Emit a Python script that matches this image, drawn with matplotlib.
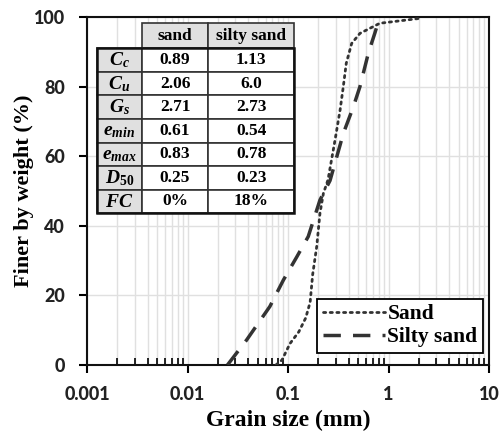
import matplotlib
matplotlib.use("Agg")
import matplotlib.pyplot as plt
from matplotlib.patches import Rectangle

plt.rcParams['mathtext.fontset'] = 'custom'
plt.rcParams['mathtext.it'] = 'Liberation Serif:bold:italic'
plt.rcParams['mathtext.rm'] = 'Liberation Serif:bold'
plt.rcParams['mathtext.bf'] = 'Liberation Serif:bold'

# Data
sand_d = [0.076, 0.087, 0.105, 0.128, 0.150, 0.166, 0.176, 0.193, 0.208, 0.225, 0.25,
          0.294, 0.33, 0.355, 0.38, 0.43, 0.52, 0.82, 2.05]
sand_p = [0.0, 1.4, 6.2, 9.5, 13.5, 18.0, 26.0, 34.0, 43.6, 49.3, 53.2,
          64.7, 73.3, 80.0, 86.7, 92.4, 95.3, 98.2, 99.6]
silty_d = [0.025, 0.0388, 0.066, 0.09, 0.122, 0.159, 0.208, 0.262,
           0.356, 0.447, 0.52, 0.63, 0.73, 0.82]
silty_p = [0.0, 7.2, 16.8, 24.4, 31.0, 36.9, 47.4, 53.0,
           66.6, 74.2, 80.0, 89.6, 95.3, 100.0]

xticks = [0.001, 0.01, 0.1, 1, 10]
xtick_labels = ['0.001', '0.01', '0.1', '1', '10']
yticks = [0, 20, 40, 60, 80, 100]

table_cols = ['sand', 'silty sand']
table_rows = [r'$C_c$', r'$C_u$', r'$G_s$', r'$e_{min}$', r'$e_{max}$',
              r'$D_{\mathit{50}}$', r'$FC$']
table_sand = ['0.89', '2.06', '2.71', '0.61', '0.83', '0.25', '0%']
table_silty = ['1.13', '6.0', '2.73', '0.54', '0.78', '0.23', '18%']

fig = plt.figure(figsize=(5.0, 4.36), dpi=100)
ax = fig.add_axes([0.174, 0.163, 0.804, 0.798])

ax.set_xscale('log')
ax.set_xlim(0.001, 10)
ax.set_ylim(0, 100)

ax.grid(True, which='major', axis='both', color='#e0e0e0', lw=1.0, zorder=0)
ax.grid(True, which='minor', axis='x', color='#e0e0e0', lw=1.0, zorder=0)

ax.plot(sand_d, sand_p, color='#333333', lw=2.0, linestyle=(0, (0.8, 1.6)),
        dash_capstyle='round', label='Sand', zorder=3)
ax.plot(silty_d, silty_p, color='#333333', lw=2.5, linestyle=(0, (5, 3.5)),
        label='Silty sand', zorder=3)

for s in ax.spines.values():
    s.set_linewidth(1.5)
    s.set_color('#111111')

ax.set_xticks(xticks)
ax.set_xticklabels(xtick_labels)
ax.set_yticks(yticks)
ax.tick_params(axis='x', which='major', direction='out', length=6, width=1.5, pad=9)
ax.tick_params(axis='x', which='minor', direction='in', length=5, width=1.2)
ax.tick_params(axis='y', which='major', direction='out', length=6, width=1.5, pad=10)
ax.tick_params(top=False, right=False, which='both')
for lab in ax.get_xticklabels() + ax.get_yticklabels():
    lab.set_fontfamily('Lato')
    lab.set_fontweight(900)
    lab.set_fontsize(13)
    lab.set_color('#222222')

ax.set_xlabel('Grain size (mm)', family='Liberation Serif', weight='bold', fontsize=17)
ax.set_ylabel('Finer by weight (%)', family='Liberation Serif', weight='bold', fontsize=16)
ax.xaxis.set_label_coords(0.5, -0.128)
ax.yaxis.set_label_coords(-0.133, 0.5)

leg = ax.legend(loc='lower right', bbox_to_anchor=(0.985, 0.035),
                prop={'family': 'Liberation Serif', 'weight': 'bold', 'size': 15.5},
                frameon=True, fancybox=False, edgecolor='black', framealpha=1,
                handlelength=2.9, handletextpad=0.1, borderpad=0.25, labelspacing=0.15,
                borderaxespad=0.0)
leg.get_frame().set_linewidth(1.3)

# Table
x0, x1, x2, x3 = 0.025, 0.136, 0.302, 0.515
ytop, yhead = 0.982, 0.910
rh = (yhead - 0.436) / len(table_rows)
tr = ax.transAxes
grey = '#e0e0e0'
tfs = 12.5
for (xa, xb), txt in zip([(x1, x2), (x2, x3)], table_cols):
    ax.add_patch(Rectangle((xa, yhead), xb - xa, ytop - yhead, transform=tr,
                           facecolor=grey, edgecolor='#333333', lw=1.2, zorder=5))
    ax.text((xa + xb) / 2, (yhead + ytop) / 2, txt, transform=tr, ha='center', va='center',
            family='Liberation Serif', weight='bold', fontsize=tfs, zorder=6)
for i, (rl, a, b) in enumerate(zip(table_rows, table_sand, table_silty)):
    yb = yhead - (i + 1) * rh
    ax.add_patch(Rectangle((x0, yb), x1 - x0, rh, transform=tr,
                           facecolor=grey, edgecolor='#333333', lw=1.2, zorder=5))
    ax.add_patch(Rectangle((x1, yb), x2 - x1, rh, transform=tr,
                           facecolor='white', edgecolor='#333333', lw=1.2, zorder=5))
    ax.add_patch(Rectangle((x2, yb), x3 - x2, rh, transform=tr,
                           facecolor='white', edgecolor='#333333', lw=1.2, zorder=5))
    yc = yb + rh / 2
    ax.text((x0 + x1) / 2, yc, rl, transform=tr, ha='center', va='center',
            fontsize=14, zorder=6)
    ax.text((x1 + x2) / 2, yc, a, transform=tr, ha='center', va='center',
            family='Liberation Serif', weight='bold', fontsize=tfs, zorder=6)
    ax.text((x2 + x3) / 2, yc, b, transform=tr, ha='center', va='center',
            family='Liberation Serif', weight='bold', fontsize=tfs, zorder=6)
ax.add_patch(Rectangle((x0, yhead - len(table_rows) * rh), x3 - x0, len(table_rows) * rh,
                       transform=tr, facecolor='none', edgecolor='#111111', lw=1.8, zorder=7))

fig.savefig('out.png', dpi=100)
